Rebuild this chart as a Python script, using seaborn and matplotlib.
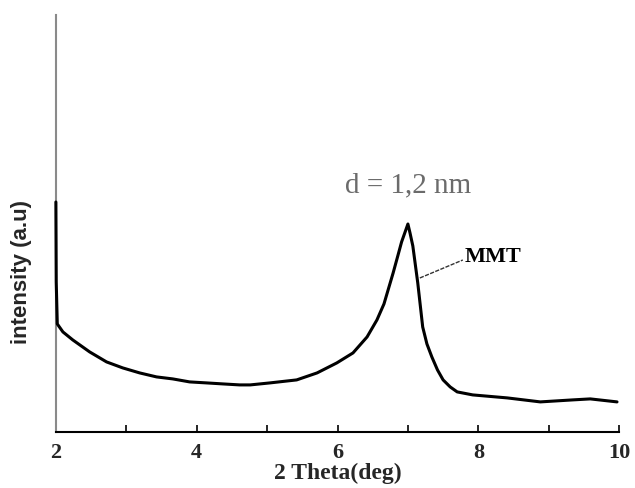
import numpy as np
import pandas as pd
import matplotlib
matplotlib.use("Agg")
import matplotlib.pyplot as plt
import seaborn as sns

# XRD pattern of MMT (intensity in arbitrary units)
two_theta = [2.00, 2.005, 2.02, 2.10, 2.24, 2.48, 2.72, 2.95, 3.19, 3.43, 3.66, 3.90,
             4.14, 4.37, 4.61, 4.76, 5.04, 5.42, 5.71, 5.99, 6.22, 6.42, 6.56, 6.66,
             6.79, 6.86, 6.91, 6.96, 7.00, 7.03, 7.07, 7.14, 7.21, 7.27, 7.34, 7.42,
             7.50, 7.60, 7.70, 7.92, 8.41, 8.88, 9.34, 9.59, 9.97]
intensity = [230, 150, 108, 100, 92, 80, 70, 64, 59, 55, 53, 50,
             49, 48, 47, 47, 49, 52, 59, 69, 79, 95, 112, 128,
             159, 177, 190, 200, 208, 199, 186, 149, 105, 88, 75, 62,
             52, 45, 40, 37, 34, 30, 32, 33, 30]

peak_label = "d = 1,2 nm"
sample_label = "MMT"
major_ticks = [2, 4, 6, 8, 10]
minor_ticks = [3, 5, 7, 9]

df = pd.DataFrame({"two_theta": two_theta, "intensity": intensity})

sns.set_style("white")

fig = plt.figure(figsize=(6.35, 4.88), dpi=100)
ax = fig.add_axes([0.088, 0.115, 0.887, 0.854])

sns.lineplot(data=df, x="two_theta", y="intensity", color="black", lw=2.2,
             ax=ax, zorder=5, clip_on=False)

ax.set_xlim(2, 10)
ax.set_ylim(0, 417)
ax.set_yticks([])
ax.set_xticks(major_ticks)
ax.set_xticks(minor_ticks, minor=True)
ax.tick_params(axis="x", which="both", direction="in", length=5, width=1.2,
               bottom=True, color="black", pad=8)
for lbl in ax.get_xticklabels():
    lbl.set_fontfamily("Liberation Serif")
    lbl.set_fontweight("bold")
    lbl.set_fontsize(16)

ax.spines["top"].set_visible(False)
ax.spines["right"].set_visible(False)
ax.spines["left"].set_color("#8a8a8a")
ax.spines["left"].set_linewidth(1.5)
ax.spines["bottom"].set_color("black")
ax.spines["bottom"].set_linewidth(1.5)

ax.set_xlabel("2 Theta(deg)", fontfamily="Liberation Serif", fontweight="bold",
              fontsize=17, labelpad=0)
ax.set_ylabel("intensity (a.u)", fontfamily="Liberation Sans", fontweight="bold",
              fontsize=16)
ax.yaxis.set_label_coords(-0.042, 0.384)

ax.text(7.0, 247, peak_label, ha="center", va="center", color="#6b6b6b",
        fontfamily="Liberation Serif", fontsize=21)
ax.plot([7.17, 7.78], [154, 172], color="#333333", lw=1.0, ls=(0, (3, 1)))
ax.text(7.8, 175, sample_label, ha="left", va="center", color="black",
        fontfamily="Liberation Serif", fontweight="bold", fontsize=16)

fig.savefig("out.png", dpi=100)
